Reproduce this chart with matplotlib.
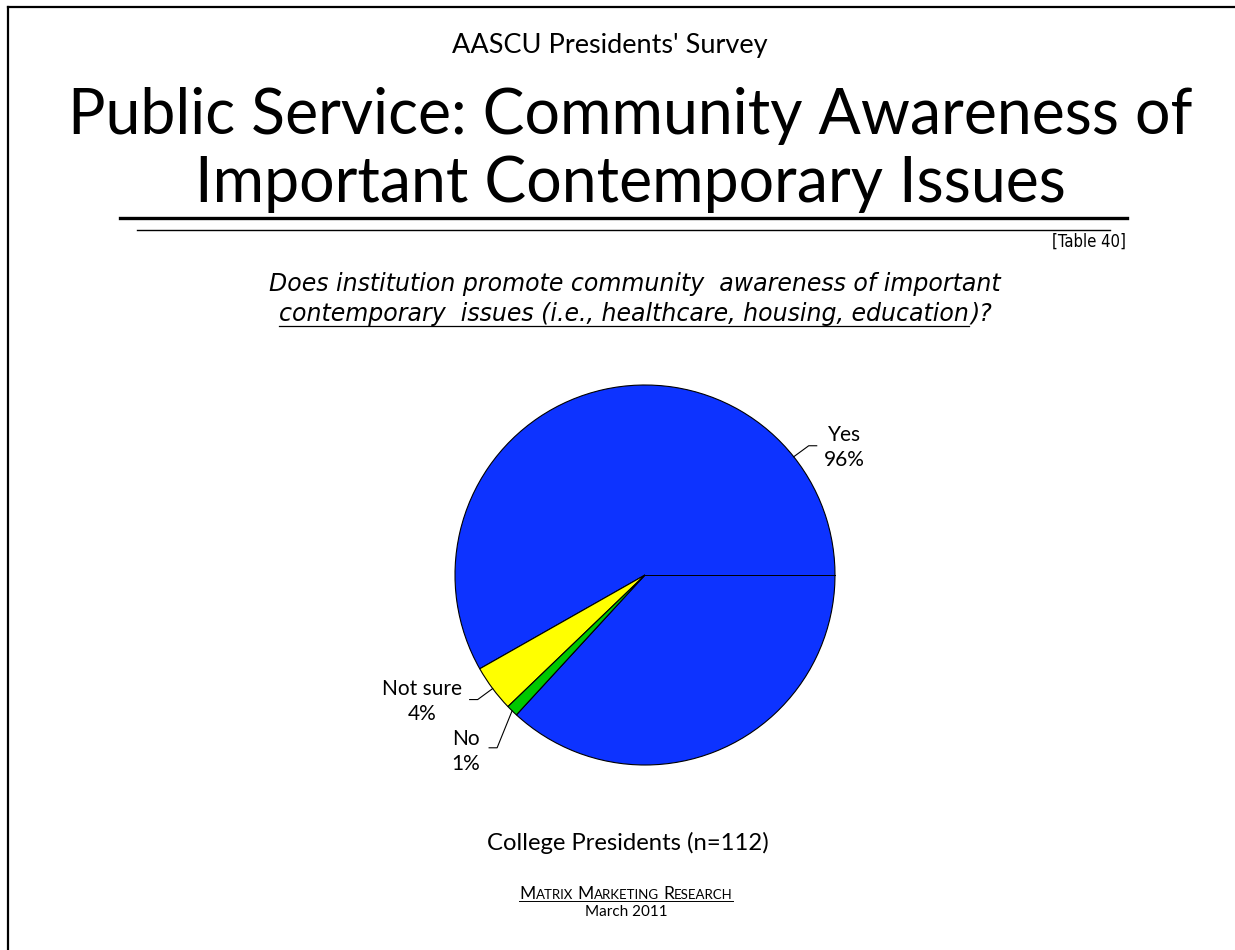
import matplotlib
matplotlib.use("Agg")
import matplotlib.pyplot as plt
from matplotlib.lines import Line2D
import numpy as np

# survey answers
labels = ["Yes", "Not sure", "No"]
values = [96, 4, 1]
pct_text = ["96%", "4%", "1%"]
colors = ["#0D33FF", "#FFFF00", "#00C800"]

suptitle = "AASCU Presidents' Survey"
title = "Public Service: Community Awareness of\nImportant Contemporary Issues"
table_ref = "[Table 40]"
question_1 = "Does institution promote community  awareness of important"
question_2u = "contemporary  issues (i.e., healthcare, housing, education"
question_2 = ")?"
base_label = "College Presidents (n=112)"
footer_1 = "Matrix Marketing Research"
footer_2 = "March 2011"

W, H = 1235, 950
FONT = "Lato"


def fx(x):
    return x / W


def fy(y):
    return 1 - y / H


fig = plt.figure(figsize=(W / 100, H / 100), dpi=100)
renderer = fig.canvas.get_renderer()


def text_width(s, **kw):
    t = fig.text(0, 0, s, **kw)
    w = t.get_window_extent(renderer).width
    t.remove()
    return w


# frame on the left and top
fig.add_artist(Line2D([fx(8), fx(8)], [0, fy(7)], color="black", lw=1.6))
fig.add_artist(Line2D([fx(8), 1], [fy(7), fy(7)], color="black", lw=1.6))

fig.text(fx(610), fy(46), suptitle, ha="center", va="center", fontsize=19.5, family=FONT)
fig.text(fx(630), fy(150), title, ha="center", va="center", fontsize=45,
         family=FONT, linespacing=1.22)

fig.add_artist(Line2D([fx(120), fx(1127)], [fy(218), fy(218)], color="black", lw=2.4))
fig.add_artist(Line2D([fx(137), fx(1110)], [fy(230), fy(230)], color="black", lw=1.0))
fig.text(fx(1126), fy(242), table_ref, ha="right", va="center", fontsize=12,
         family="DejaVu Sans", stretch="condensed")

# question, second line partly underlined
qkw = dict(fontsize=17, family="DejaVu Sans", style="italic")
fig.text(fx(635), fy(284), question_1, ha="center", va="center", **qkw)
w_u = text_width(question_2u, **qkw)
w_r = text_width(question_2, **qkw)
x0 = 635 - (w_u + w_r) / 2
fig.text(fx(x0), fy(314), question_2u, ha="left", va="center", **qkw)
fig.text(fx(x0 + w_u + 1), fy(314), question_2, ha="left", va="center", **qkw)
fig.add_artist(Line2D([fx(x0), fx(x0 + w_u)], [fy(326), fy(326)], color="black", lw=0.9))

# pie: centre (645, 575) px, radius 190 px
cx, cy, R = 645, 575, 190
half = 200
ax = fig.add_axes([fx(cx - half), fy(cy + half), 2 * half / W, 2 * half / H])
start = 227.4
ax.pie(values, colors=colors, startangle=start, counterclock=True, radius=1,
       wedgeprops=dict(edgecolor="black", linewidth=0.8))
ax.plot([0, 1], [0, 0], color="black", lw=0.7)
ax.set_xlim(-half / R, half / R)
ax.set_ylim(-half / R, half / R)
ax.axis("off")

# leader lines: elbow offset, end offset, label centre offset (px, y down)
leaders = [((15, -11), (23, -11), (51, -9)),
           ((-15, 11), (-23, 11), (-71, 13)),
           ((-15, 37), (-23, 37), (-46, 41))]
vals = np.array(values, dtype=float)
edges = start + 360 * np.concatenate([[0], np.cumsum(vals)]) / vals.sum()
for i, (lab, pct) in enumerate(zip(labels, pct_text)):
    mid = np.deg2rad((edges[i] + edges[i + 1]) / 2)
    px, py = np.cos(mid), np.sin(mid)
    (ex, ey), (tx, ty), (lx, ly) = leaders[i]
    ax.plot([px, px + ex / R, px + tx / R], [py, py - ey / R, py - ty / R],
            color="black", lw=0.8)
    ax.text(px + lx / R, py - ly / R, f"{lab}\n{pct}", ha="center", va="center",
            fontsize=15, family=FONT, linespacing=1.33)

fig.text(fx(628), fy(843), base_label, ha="center", va="center", fontsize=17.2, family=FONT)

# footer in small caps, underlined
big, small = 12.5, 9.5
pieces = []
for j, word in enumerate(footer_1.split()):
    if j:
        pieces.append((" ", big))
    pieces.append((word[0], big))
    pieces.append((word[1:].upper(), small))
space_w = text_width("a a", fontsize=big, family=FONT) - text_width("aa", fontsize=big, family=FONT)
widths = [space_w if s == " " else text_width(s, fontsize=sz, family=FONT) for s, sz in pieces]
xs = 626 - sum(widths) / 2
xcur = xs
for (s, sz), w in zip(pieces, widths):
    if s != " ":
        fig.text(fx(xcur), fy(899), s, ha="left", va="baseline", fontsize=sz, family=FONT)
    xcur += w
fig.add_artist(Line2D([fx(xs), fx(xcur)], [fy(901), fy(901)], color="black", lw=0.7))
fig.text(fx(626), fy(912), footer_2, ha="center", va="center", fontsize=11, family=FONT)

fig.savefig("out.png", dpi=100, facecolor="white")
